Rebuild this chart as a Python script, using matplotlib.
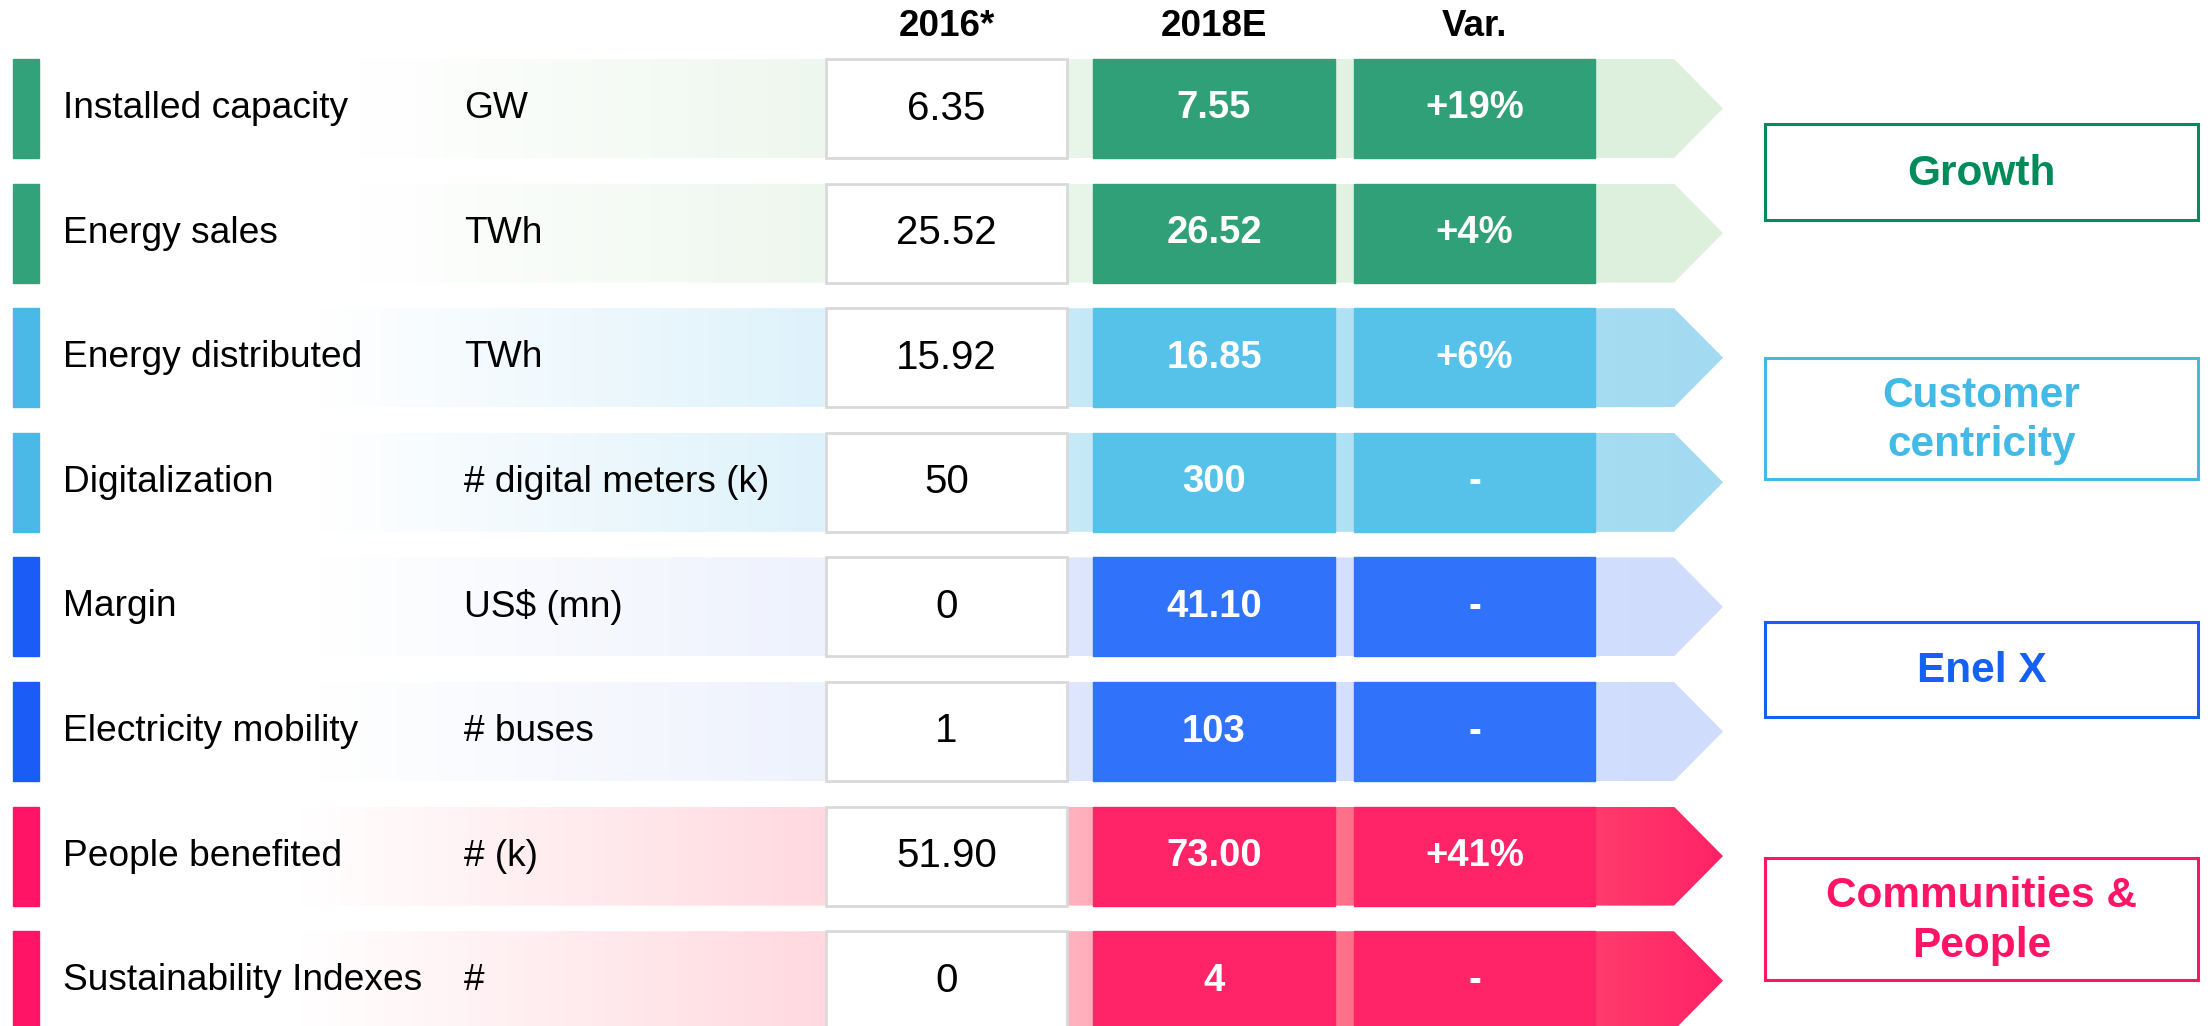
import numpy as np
import matplotlib
matplotlib.use("Agg")
import matplotlib.pyplot as plt
from matplotlib.patches import Rectangle, Polygon
from matplotlib.colors import to_rgb

plt.rcParams["font.family"] = ["Liberation Sans", "DejaVu Sans"]

# data
labels = ["Installed capacity", "Energy sales", "Energy distributed", "Digitalization",
          "Margin", "Electricity mobility", "People benefited", "Sustainability Indexes"]
units = ["GW", "TWh", "TWh", "# digital meters (k)", "US$ (mn)", "# buses", "# (k)", "#"]
values_2016 = ["6.35", "25.52", "15.92", "50", "0", "1", "51.90", "0"]
values_2018 = ["7.55", "26.52", "16.85", "300", "41.10", "103", "73.00", "4"]
variation = ["+19%", "+4%", "+6%", "-", "-", "-", "+41%", "-"]
row_group = [0, 0, 1, 1, 2, 2, 3, 3]
headers = ["2016*", "2018E", "Var."]
group_names = ["Growth", "Customer\ncentricity", "Enel X", "Communities &\nPeople"]

# style per group
strip_colors = ["#31a27a", "#4bb9e8", "#1a5cf5", "#ff1466"]
box_colors = ["#2fa077", "#56c1e9", "#3072f9", "#ff2468"]
title_colors = ["#008c5a", "#43b9e6", "#1560f5", "#ff1466"]
band_stops = [
    [(360, "#ffffff"), (826, "#eef7ee"), (1080, "#e8f5e9"), (1345, "#e2f2e3"), (1723, "#dcf0dc")],
    [(320, "#ffffff"), (826, "#def2fb"), (1080, "#c5e9f7"), (1345, "#b0e1f5"), (1723, "#a2daf1")],
    [(320, "#ffffff"), (826, "#eef2fd"), (1080, "#dde6fd"), (1345, "#d5e0fc"), (1723, "#cfdcfc")],
    [(300, "#ffffff"), (826, "#ffd9df"), (1080, "#ffb0bd"), (1345, "#ff7089"),
     (1600, "#ff3a6c"), (1723, "#ff2266")],
]

W, H = 2211, 1026
fig = plt.figure(figsize=(W / 100, H / 100), dpi=100)
ax = fig.add_axes([0, 0, 1, 1])
ax.set_xlim(0, W)
ax.set_ylim(H, 0)
ax.axis("off")

row_top0, pitch, row_h = 59, 124.6, 99
cols = [(826, 1067), (1093, 1335), (1354, 1595)]
band_x0, head_x, tip_x = 39, 1674, 1723

xs = np.arange(band_x0, tip_x + 1)
for i, lab in enumerate(labels):
    g = row_group[i]
    top = row_top0 + i * pitch
    bot = top + row_h
    mid = top + row_h / 2

    # gradient arrow band
    stops = band_stops[g]
    sx = [s[0] for s in stops]
    rgb = np.array([to_rgb(s[1]) for s in stops])
    img = np.stack([np.interp(xs, sx, rgb[:, k]) for k in range(3)], axis=-1)[None, :, :]
    arrow = Polygon([(band_x0, top), (head_x, top), (tip_x, mid), (head_x, bot), (band_x0, bot)],
                    closed=True, facecolor="none", edgecolor="none")
    ax.add_patch(arrow)
    im = ax.imshow(img, extent=(band_x0, tip_x, bot, top), aspect="auto", zorder=1)
    im.set_clip_path(arrow)

    ax.add_patch(Rectangle((13, top), 26, row_h, color=strip_colors[g], zorder=2))
    ax.text(63, mid, lab, fontsize=26.7, va="center", ha="left", zorder=3)
    ax.text(464, mid, units[i], fontsize=26.7, va="center", ha="left", zorder=3)

    x0, x1 = cols[0]
    ax.add_patch(Rectangle((x0, top), x1 - x0, row_h, facecolor="white",
                           edgecolor="#d9d9d9", lw=2, zorder=2))
    ax.text((x0 + x1) / 2, mid, values_2016[i], fontsize=29, ha="center", va="center", zorder=3)
    for (x0, x1), val in zip(cols[1:], [values_2018[i], variation[i]]):
        ax.add_patch(Rectangle((x0, top), x1 - x0, row_h, color=box_colors[g], zorder=2))
        ax.text((x0 + x1) / 2, mid, val, fontsize=27.5, fontweight="bold", color="white",
                ha="center", va="center", zorder=3)

for (x0, x1), h in zip(cols, headers):
    ax.text((x0 + x1) / 2, 27, h, fontsize=26.5, fontweight="bold", ha="center", va="center")

# right group boxes
group_boxes = [(124, 220), (358, 479), (622, 717), (858, 980)]
for g, name in enumerate(group_names):
    y0, y1 = group_boxes[g]
    ax.add_patch(Rectangle((1765, y0), 2198 - 1765, y1 - y0, facecolor="white",
                           edgecolor=title_colors[g], lw=2.2, zorder=2))
    ax.text((1765 + 2198) / 2, (y0 + y1) / 2 + 2, name, fontsize=30.5, fontweight="bold",
            color=title_colors[g], ha="center", va="center", linespacing=1.3, zorder=3)

fig.savefig("out.png", dpi=100)
